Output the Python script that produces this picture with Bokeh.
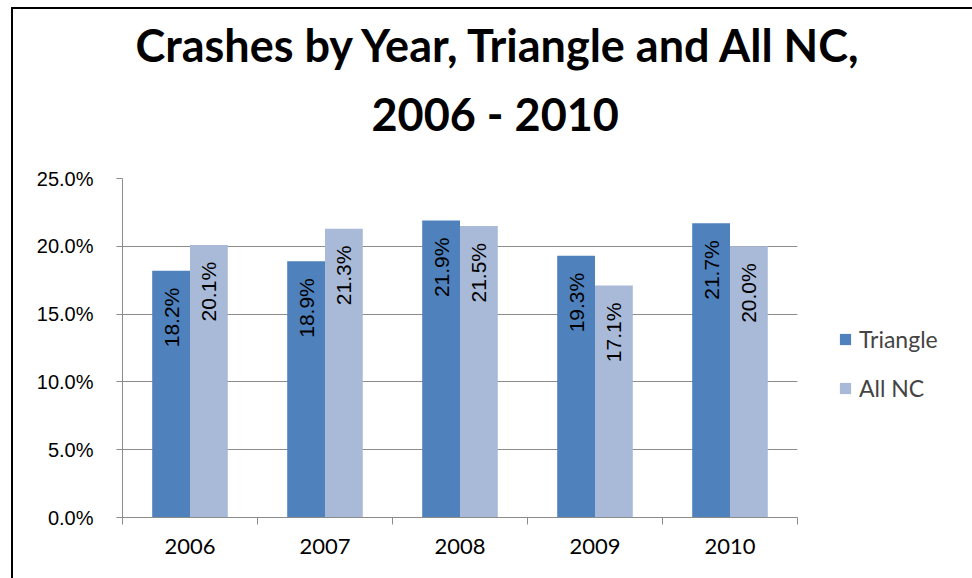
from math import pi
from bokeh.plotting import figure
from bokeh.models import (ColumnDataSource, FixedTicker, PrintfTickFormatter,
                          Legend, LegendItem, Title, Range1d)
from bokeh.transform import dodge
from bokeh.core.properties import value
from bokeh.embed import file_html
from bokeh.resources import INLINE

years = [2006, 2007, 2008, 2009, 2010]
triangle = [18.2, 18.9, 21.9, 19.3, 21.7]
all_nc = [20.1, 21.3, 21.5, 17.1, 20.0]
y_ticks = [0, 5, 10, 15, 20, 25]
series_names = ["Triangle", "All NC"]
title_lines = ["Crashes by Year, Triangle and All NC,", "2006 - 2010"]

src = ColumnDataSource(dict(
    year=years, triangle=triangle, all_nc=all_nc,
    tri_lbl=[f"{v:.1f}%" for v in triangle],
    nc_lbl=[f"{v:.1f}%" for v in all_nc],
))

C_TRI = "#4F81BD"
C_NC = "#A9BAD9"
GRID = "#8C8C8C"
CAL = "Lato"
ARI = "Liberation Sans"

p = figure(frame_width=675, frame_height=339, output_backend="svg", toolbar_location=None,
           x_range=Range1d(years[0] - 0.5, years[-1] + 0.5), y_range=Range1d(0, 25),
           min_border_left=109, min_border_right=175, min_border_top=169,
           min_border_bottom=61, margin=(7, 0, 0, 11),
           styles={"border-left": "2px solid black", "border-top": "2px solid black"})
p.outline_line_color = None
p.background_fill_color = "white"
p.border_fill_color = "white"

w = 0.28
r1 = p.vbar(x=dodge("year", -w / 2, range=p.x_range), top="triangle", width=w,
            source=src, fill_color=C_TRI, line_color=None)
r2 = p.vbar(x=dodge("year", w / 2, range=p.x_range), top="all_nc", width=w,
            source=src, fill_color=C_NC, line_color=None)

for col, lbl, off in (("triangle", "tri_lbl", -w / 2), ("all_nc", "nc_lbl", w / 2)):
    p.text(x=dodge("year", off, range=p.x_range), y=col, text=lbl, source=src,
           angle=pi / 2, text_align="right", text_baseline="middle",
           x_offset=0, y_offset=17, text_font=value(ARI), text_font_size="21px",
           text_color="black")

# axes
p.xgrid.grid_line_color = None
p.ygrid.grid_line_color = GRID
p.ygrid.grid_line_width = 1
p.yaxis.ticker = FixedTicker(ticks=y_ticks)
p.yaxis.formatter = PrintfTickFormatter(format="%.1f%%")
p.yaxis.major_label_text_font = ARI
p.yaxis.major_label_text_font_size = "20px"
p.yaxis.major_label_text_color = "black"
p.yaxis.axis_line_color = GRID
p.yaxis.major_tick_line_color = GRID
p.yaxis.major_tick_in = 0
p.yaxis.major_tick_out = 6
p.yaxis.minor_tick_line_color = None
p.yaxis.major_label_standoff = 23

bounds = [y - 0.5 for y in years] + [years[-1] + 0.5]
p.xaxis.ticker = FixedTicker(ticks=years, minor_ticks=bounds)
p.xaxis.major_tick_line_color = None
p.xaxis.minor_tick_line_color = GRID
p.xaxis.minor_tick_in = 0
p.xaxis.minor_tick_out = 7
p.xaxis.axis_line_color = GRID
p.xaxis.major_label_text_font = CAL
p.xaxis.major_label_text_font_size = "22px"
p.xaxis.major_label_text_color = "black"
p.xaxis.major_label_standoff = 14

legend = Legend(items=[LegendItem(label=series_names[0], renderers=[r1]),
                       LegendItem(label=series_names[1], renderers=[r2])],
                location=(41, 115), orientation="vertical",
                glyph_width=14, glyph_height=14, label_standoff=7, spacing=21,
                label_text_font=CAL, label_text_font_size="23px",
                border_line_color=None, background_fill_alpha=0,
                padding=0, margin=0)
p.add_layout(legend, "right")

p.add_layout(Title(text=title_lines[1], text_font=CAL, text_font_style="bold",
                   text_font_size="45px", text_color="black", align="left",
                   offset=249, standoff=76), "above")
p.add_layout(Title(text=title_lines[0], text_font=CAL,
                   text_font_style="bold", text_font_size="45px", text_color="black",
                   align="left", offset=13, standoff=-50), "above")

open("out.html", "w").write(file_html(p, INLINE))
